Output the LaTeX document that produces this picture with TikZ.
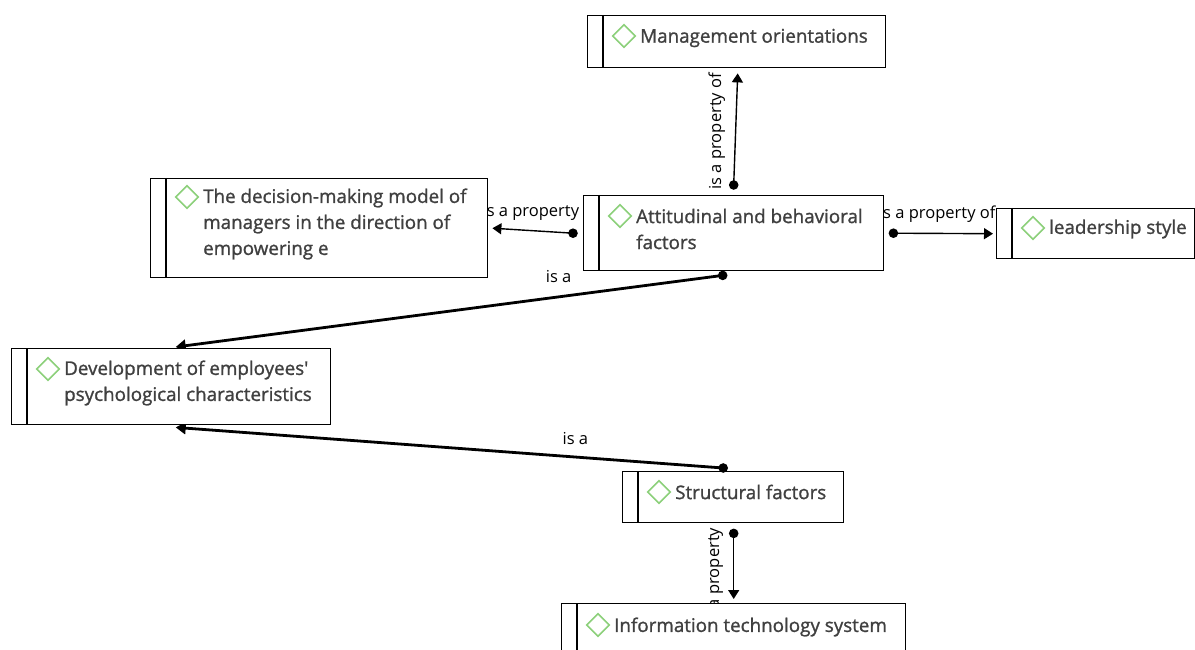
\documentclass[tikz,border=0pt]{standalone}
\usepackage{fontspec}
\setmainfont{Open Sans}
\newfontfamily\boxfont{Open Sans}[FakeBold=1.2]
\usetikzlibrary{arrows.meta,shapes.geometric,calc}
\definecolor{txt}{HTML}{404040}
\definecolor{dia}{HTML}{8CD07A}
\tikzset{
  box/.style={draw=black, line width=1.4pt, fill=white, inner sep=0pt, anchor=north west},
  stripe/.style={draw=black, line width=1.4pt},
  dmark/.style={diamond, draw=dia, line width=1.6pt, minimum size=23pt, inner sep=0pt},
  ctext/.style={inner sep=0pt, align=left, anchor=west, text=txt, font=\boxfont\fontsize{18.8}{26}\selectfont},
  conn/.style={line width=1.4pt, -{Triangle[width=11pt,length=9pt]}},
  thick conn/.style={line width=2.8pt, -{Triangle[width=12pt,length=10pt]}},
  lbl/.style={inner sep=0pt, anchor=center, text=black, font=\fontsize{16.5}{18}\selectfont},
  dot/.style={fill=black}
}
% name, x1, y1, x2, y2, diamond dy, text dy, text
\newcommand{\conceptbox}[8]{%
  \node[box, minimum width={#4pt-#2pt}, minimum height={#5pt-#3pt}] (#1) at (#2,#3) {};
  \draw[stripe] ([xshift=16pt]#1.north west) -- ([xshift=16pt]#1.south west);
  \node[dmark] (#1-d) at ($(#1.north west)+(37,#6)$) {};
  \node[ctext] (#1-t) at ($(#1.north west)+(53,#7)$) {#8};
}
\begin{document}
\begin{tikzpicture}[x=1pt,y=-1pt]
\useasboundingbox (0,0) rectangle (1195,650);
\clip (0,0) rectangle (1195,650);

% invisible placement of boxes first (for coordinates), drawn on top later
\begin{scope}[opacity=0]
\node[box, minimum width=298pt, minimum height=52pt] (mg) at (587,15) {};
\node[box, minimum width=337pt, minimum height=99pt] (dm) at (150,178) {};
\node[box, minimum width=300pt, minimum height=75pt] (at) at (583,195) {};
\node[box, minimum width=198pt, minimum height=50pt] (ls) at (996,208) {};
\node[box, minimum width=319pt, minimum height=76pt] (dv) at (11,348) {};
\node[box, minimum width=221pt, minimum height=51pt] (st) at (622,471) {};
\node[box, minimum width=344pt, minimum height=49pt] (it) at (561,603) {};
\end{scope}

% connector end points
\coordinate (p1) at ($(at.north)+(0,-10)$);
\coordinate (p2) at ($(at.west)+(-10,0)$);
\coordinate (p3) at ($(at.east)+(9,0)$);
\coordinate (p4) at ($(at.south)+(-11,4)$);
\coordinate (p5) at ($(st.north)+(-10,-3)$);
\coordinate (p6) at ($(st.south)+(0.5,10)$);

% connectors with labels
\draw[conn] (p1) -- node[lbl, pos=0.5, xshift=-19pt, yshift=-2pt, rotate=90] {is a property of} ($(mg.south)+(1,5)$);
\draw[conn] (p2) -- node[lbl, pos=0.40, yshift=19.5pt] {is a property of} ($(dm.east)+(4,0)$);
\draw[conn] (p3) -- node[lbl, pos=0.44, yshift=19pt] {is a property of} ($(ls.west)+(-3,0)$);
\draw[thick conn] (p4) -- node[lbl, pos=0.30, yshift=20pt] {is a} ($(dv.north)+(4.5,-1)$);
\draw[thick conn] (p5) -- node[lbl, pos=0.27, yshift=18.5pt] {is a} ($(dv.south)+(4.5,2)$);
\draw[conn] (p6) -- node[lbl, pos=0.5, xshift=-19pt, rotate=90] {is a property of} ($(it.north)+(0,-4)$);

% boxes
\conceptbox{mgb}{587}{15}{885}{67}{21}{23}{Management orientations}
\conceptbox{dmb}{150}{178}{487}{277}{19}{46}{The decision-making model of\\managers in the direction of\\empowering e}
\conceptbox{atb}{583}{195}{883}{270}{21}{34}{Attitudinal and behavioral\\factors}
\conceptbox{lsb}{996}{208}{1194}{258}{20}{21}{leadership style}
\conceptbox{dvb}{11}{348}{330}{424}{21}{35}{Development of employees'\\psychological characteristics}
\conceptbox{stb}{622}{471}{843}{522}{21}{21}{Structural factors}
\conceptbox{itb}{561}{603}{905}{652}{22}{24}{Information technology system}

% dots
\fill[dot] (p1) circle (4.8pt);
\fill[dot] (p2) circle (4.8pt);
\fill[dot] (p3) circle (4.8pt);
\fill[dot] (p4) circle (4.8pt);
\fill[dot] (p5) circle (4.8pt);
\fill[dot] (p6) circle (4.8pt);
\end{tikzpicture}
\end{document}
